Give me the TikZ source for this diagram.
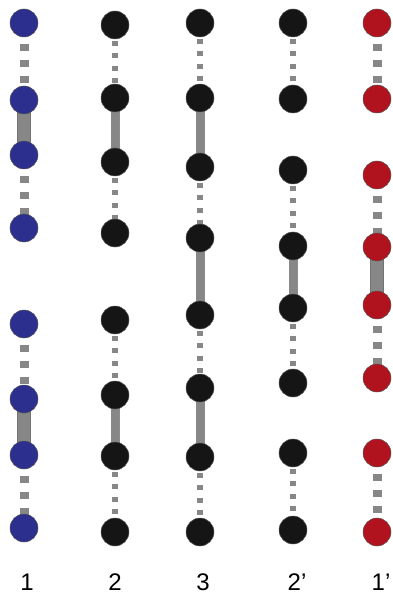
\documentclass[tikz,border=0pt]{standalone}
\usepackage{fontspec}
\setmainfont{Liberation Sans}
\usetikzlibrary{backgrounds}
\definecolor{pblue}{HTML}{2C2F8E}
\definecolor{pred}{HTML}{B0121E}
\definecolor{pblack}{HTML}{151515}
\definecolor{bondgray}{HTML}{878787}
\tikzset{
  bead/.style={circle,minimum size=28pt,inner sep=0pt,draw=black!65,line width=0.5pt},
  dashbond/.style={bondgray,line width=9pt,dash pattern=on 7pt off 9pt,dash phase=11pt},
  dotbond/.style={bondgray,line width=6pt,dash pattern=on 5pt off 7.4pt,dash phase=8.8pt},
  rodwide/.style={draw=black!55,line width=0.6pt,double=bondgray,double distance=12pt},
  rodnarrow/.style={draw=black!45,line width=0.5pt,double=bondgray,double distance=8pt}
}
\begin{document}
\begin{tikzpicture}[x=1pt,y=-1pt]
  \useasboundingbox (0,0) rectangle (392,601);
  % beads
  \foreach \y [count=\i] in {23,100,155,228,324,399,455,528}
    \node[bead,fill=pblue] (a\i) at (24,\y) {};
  \foreach \y [count=\i] in {25,98,162,233,320,395,456,532}
    \node[bead,fill=pblack] (b\i) at (115,\y) {};
  \foreach \y [count=\i] in {23,98,167,238,315,388,457,532}
    \node[bead,fill=pblack] (c\i) at (200,\y) {};
  \foreach \y [count=\i] in {23,99,170,246,308,383,453,530}
    \node[bead,fill=pblack] (d\i) at (293,\y) {};
  \foreach \y [count=\i] in {23,99,175,247,305,378,453,532}
    \node[bead,fill=pred] (e\i) at (377,\y) {};
  % bonds
  \begin{scope}[on background layer]
    \draw[dashbond] (a1.center)--(a2.center) (a3.center)--(a4.center)
                    (a5.center)--(a6.center) (a7.center)--(a8.center);
    \draw[rodwide] (a2.center)--(a3.center) (a6.center)--(a7.center);
    \draw[dotbond] (b1.center)--(b2.center) (b3.center)--(b4.center)
                   (b5.center)--(b6.center) (b7.center)--(b8.center);
    \draw[rodnarrow] (b2.center)--(b3.center) (b6.center)--(b7.center);
    \draw[dotbond] (c1.center)--(c2.center) (c3.center)--(c4.center)
                   (c5.center)--(c6.center) (c7.center)--(c8.center);
    \draw[rodnarrow] (c2.center)--(c3.center) (c4.center)--(c5.center) (c6.center)--(c7.center);
    \draw[dotbond] (d1.center)--(d2.center) (d3.center)--(d4.center)
                   (d5.center)--(d6.center) (d7.center)--(d8.center);
    \draw[rodnarrow] (d4.center)--(d5.center);
    \draw[dashbond] (e1.center)--(e2.center) (e3.center)--(e4.center)
                    (e5.center)--(e6.center) (e7.center)--(e8.center);
    \draw[rodwide] (e4.center)--(e5.center);
  \end{scope}
  % labels
  \begin{scope}[font=\fontsize{24}{28}\selectfont]
    \node (l1) at (27,582) {1};
    \node (l2) at (115,582) {2};
    \node (l3) at (203,582) {3};
    \node (l4) at (297,582) {2'};
    \node (l5) at (381,582) {1'};
  \end{scope}
\end{tikzpicture}
\end{document}
